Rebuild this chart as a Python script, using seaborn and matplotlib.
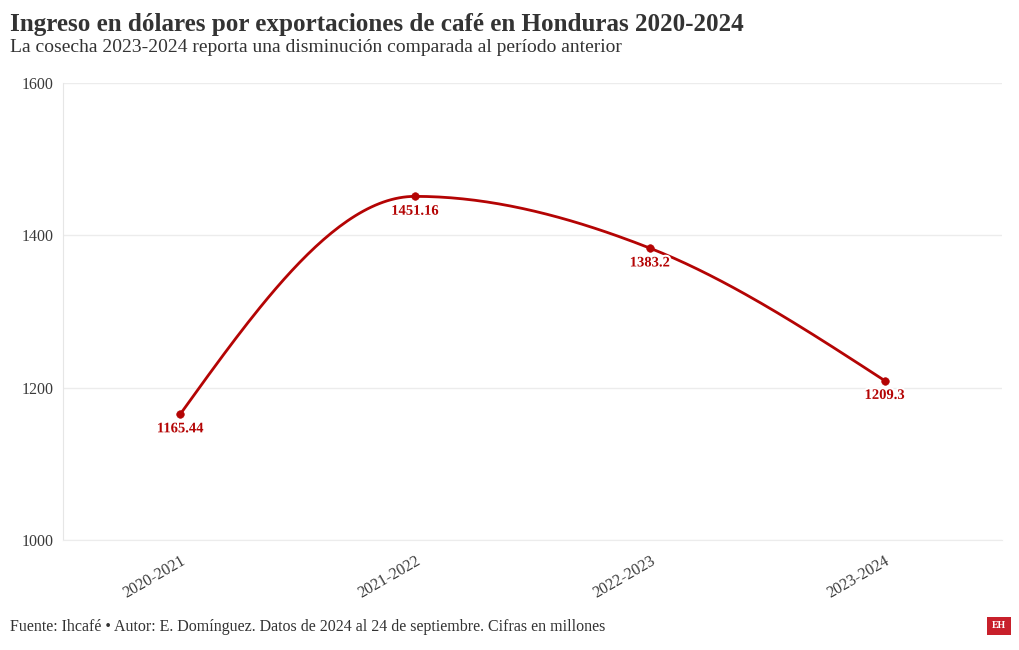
import numpy as np
import pandas as pd
import matplotlib
matplotlib.use("Agg")
import matplotlib.pyplot as plt
import matplotlib.patheffects as pe
import seaborn as sns

# Data
periodos = ["2020-2021", "2021-2022", "2022-2023", "2023-2024"]
ingresos = [1165.44, 1451.16, 1383.2, 1209.3]
etiquetas = ["1165.44", "1451.16", "1383.2", "1209.3"]
y_ticks = [1000, 1200, 1400, 1600]

ROJO = "#b40404"
GRIS = "#3a3a3a"
FUENTE = ["Liberation Serif", "DejaVu Serif"]


def monotone_curve(xs, ys, n=60):
    # monotone cubic (like d3.curveMonotoneX) for drawing the smooth line
    xs = np.asarray(xs, float)
    ys = np.asarray(ys, float)
    h = np.diff(xs)
    s = np.diff(ys) / h
    t = np.zeros(len(xs))
    for i in range(1, len(xs) - 1):
        p = (s[i - 1] * h[i] + s[i] * h[i - 1]) / (h[i - 1] + h[i])
        t[i] = (np.sign(s[i - 1]) + np.sign(s[i])) * min(abs(s[i - 1]), abs(s[i]), 0.5 * abs(p))
    t[0] = (3 * s[0] - t[1]) / 2
    t[-1] = (3 * s[-1] - t[-2]) / 2
    out_x, out_y = [], []
    for i in range(len(xs) - 1):
        u = np.linspace(0, 1, n)
        h00 = 2 * u**3 - 3 * u**2 + 1
        h10 = u**3 - 2 * u**2 + u
        h01 = -2 * u**3 + 3 * u**2
        h11 = u**3 - u**2
        out_x.extend(xs[i] + u * h[i])
        out_y.extend(h00 * ys[i] + h10 * h[i] * t[i] + h01 * ys[i + 1] + h11 * h[i] * t[i + 1])
    return np.array(out_x), np.array(out_y)


sns.set_style("white")
plt.rcParams["font.family"] = FUENTE

df = pd.DataFrame({"pos": np.arange(len(periodos)), "valor": ingresos})
cx, cy = monotone_curve(df["pos"], df["valor"])
curva = pd.DataFrame({"x": cx, "y": cy})

fig = plt.figure(figsize=(10.2, 6.5), dpi=100)
ax = fig.add_axes([63 / 1020, 1 - 540 / 650, (1002 - 63) / 1020, (540 - 83) / 650])

sns.lineplot(data=curva, x="x", y="y", ax=ax, color=ROJO, linewidth=2, sort=False)
sns.scatterplot(data=df, x="pos", y="valor", ax=ax, color=ROJO, s=30, edgecolor=ROJO, zorder=4)

for i, v in enumerate(ingresos):
    ax.annotate(etiquetas[i], (i, v), xytext=(0, -6), textcoords="offset points",
                ha="center", va="top", fontsize=10.5, fontweight="bold", color=ROJO,
                path_effects=[pe.withStroke(linewidth=3, foreground="white")], zorder=5)

ax.set_xlim(-0.5, len(periodos) - 0.5)
ax.set_ylim(1000, 1600)
ax.set_xticks(range(len(periodos)))
ax.set_xticklabels(periodos, rotation=30, ha="right", rotation_mode="anchor")
ax.set_yticks(y_ticks)
ax.set_xlabel("")
ax.set_ylabel("")
ax.grid(axis="y", color="#ececec", linewidth=1)
ax.set_axisbelow(True)
for side in ["top", "right"]:
    ax.spines[side].set_visible(False)
ax.spines["left"].set_color("#e6e6e6")
ax.spines["bottom"].set_color("#ececec")
ax.tick_params(axis="both", labelsize=11.5, labelcolor=GRIS, color="#e0e0e0", length=5, width=1)
ax.tick_params(axis="x", pad=4)
ax.tick_params(axis="y", length=4, pad=3)

fig.text(10 / 1020, 1 - 24 / 650, "Ingreso en dólares por exportaciones de café en Honduras 2020-2024",
         fontsize=18.1, fontweight="bold", color="#333333", va="center", ha="left")
fig.text(10 / 1020, 1 - 48 / 650, "La cosecha 2023-2024 reporta una disminución comparada al período anterior",
         fontsize=14, color="#333333", va="center", ha="left")
fig.text(10 / 1020, 1 - 627 / 650,
         "Fuente: Ihcafé • Autor: E. Domínguez. Datos de 2024 al 24 de septiembre. Cifras en millones",
         fontsize=11.5, color="#333333", va="center", ha="left")
fig.text(999 / 1020, 1 - 626 / 650, "EH", fontsize=7, fontweight="bold", color="white",
         ha="center", va="center",
         bbox=dict(boxstyle="square,pad=0.5", facecolor="#c8202b", edgecolor="none"))

fig.savefig("out.png", dpi=100)
